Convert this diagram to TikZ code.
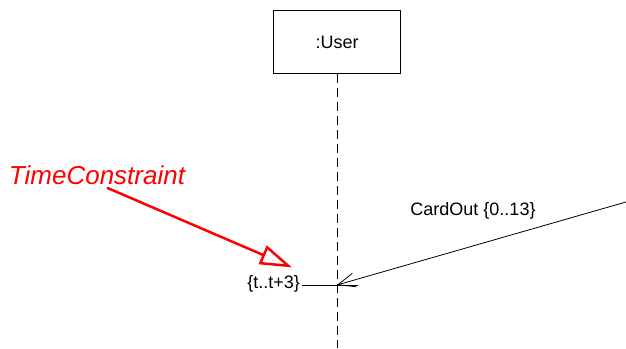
\documentclass[tikz,border=0pt]{standalone}
\usepackage{fontspec}
\setmainfont{Liberation Sans}
\usetikzlibrary{arrows.meta}

\tikzset{
	lifebox/.style={draw, line width=0.8pt, minimum width=127pt, minimum height=63pt, inner sep=0pt, font=\fontsize{18}{20}\selectfont},
	msglabel/.style={font=\fontsize{18}{20}\selectfont, inner sep=2pt},
	notelabel/.style={text=red, font=\fontsize{26}{28}\selectfont\itshape, inner sep=2pt}
}

\begin{document}
\begin{tikzpicture}[x=1pt, y=-1pt]
		\useasboundingbox (0,0) rectangle (626,348);
		% lifeline of the user
		\node [lifebox] (user) at (337,42) {:User};
		\coordinate (lifeend) at (337,348);
		\draw [line width=0.8pt, dash pattern=on 9pt off 5pt] (user.south) -- (lifeend);
		% incoming message
		\coordinate (evt) at (337,285);
		\coordinate (msgstart) at (626,202);
		\node [msglabel, anchor=east] (cons) at (302,284) {\{t..t+3\}};
		\draw [line width=0.8pt] (cons.east |- evt) -- ([xshift=21pt]evt);
		\draw [line width=0.8pt, -{Straight Barb[length=17pt, width=14pt]}] (msgstart) -- (evt);
		\node [msglabel] (msg) at (473,211) {CardOut \{0..13\}};
		% the note on the constraint
		\node [notelabel] (note) at (97,175) {TimeConstraint};
		\draw [red, line width=2.5pt, -{Triangle[open, length=32pt, width=20pt, line width=2.5pt]}] ([xshift=10pt, yshift=-1pt]note.south) -- ([xshift=-10pt, yshift=6pt]cons.north east);
	\end{tikzpicture}
\end{document}
